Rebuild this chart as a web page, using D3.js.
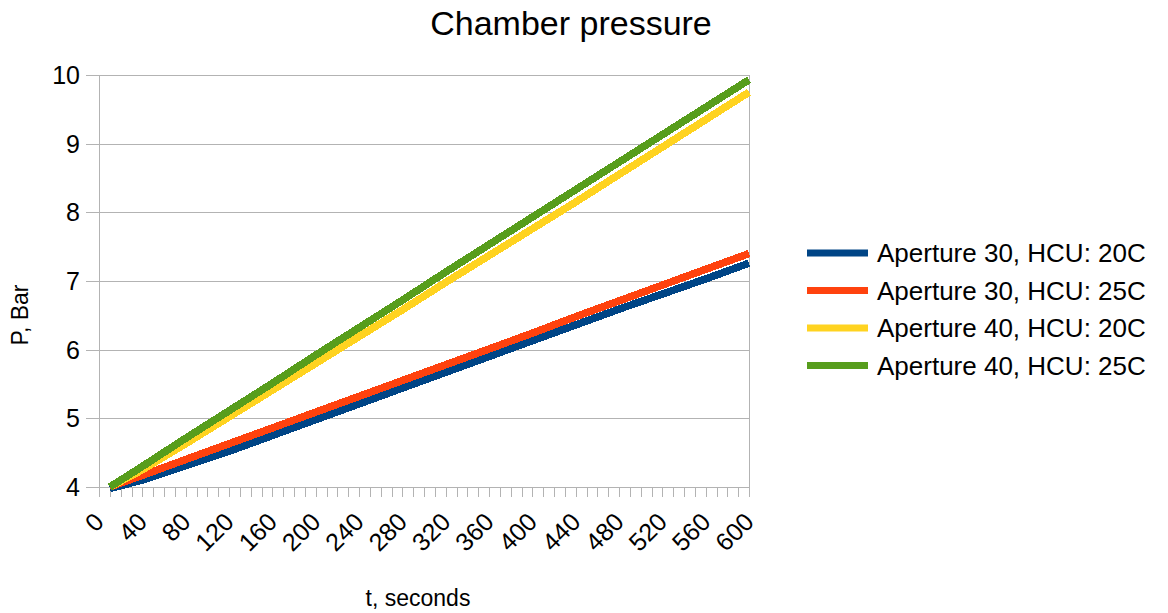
<!DOCTYPE html>
<html>
<head>
<meta charset="utf-8">
<script src="https://cdn.jsdelivr.net/npm/d3@7"></script>
<style>
  body { margin: 0; background: #fff; }
  text { font-family: "Liberation Sans", Arial, sans-serif; fill: #000; }
</style>
</head>
<body>
<div id="chart"></div>
<script>
// time points (seconds)
var times = [10, 40, 80, 120, 160, 200, 240, 280, 320, 360, 400, 440, 480, 520, 560, 600];

var seriesNames = ["Aperture 30, HCU: 20C", "Aperture 30, HCU: 25C",
                   "Aperture 40, HCU: 20C", "Aperture 40, HCU: 25C"];
var seriesColors = ["#004586", "#ff420e", "#ffd320", "#579d1c"];

var ap30_20 = [3.98, 4.10, 4.31, 4.52, 4.75, 4.98, 5.21, 5.44, 5.67, 5.90, 6.13, 6.36, 6.59, 6.81, 7.03, 7.26];
var ap30_25 = [4.00, 4.17, 4.40, 4.63, 4.86, 5.09, 5.32, 5.55, 5.78, 6.01, 6.24, 6.48, 6.71, 6.94, 7.17, 7.40];
var ap40_20 = [4.00, 4.25, 4.63, 5.02, 5.41, 5.80, 6.19, 6.58, 6.98, 7.37, 7.76, 8.15, 8.55, 8.95, 9.35, 9.75];
var ap40_25 = [4.00, 4.30, 4.71, 5.11, 5.51, 5.92, 6.32, 6.72, 7.13, 7.53, 7.93, 8.33, 8.73, 9.13, 9.53, 9.93];

var yTicks = [4, 5, 6, 7, 8, 9, 10];
var xLabelTicks = d3.range(0, 601, 40);
var xMinorTicks = d3.range(0, 601, 10);

var seriesValues = [ap30_20, ap30_25, ap40_20, ap40_25];

var width = 1168, height = 613;
var plot = {left: 99, right: 749, top: 75, bottom: 487};

var svg = d3.select("#chart").append("svg")
    .attr("width", width)
    .attr("height", height);

var x = d3.scaleLinear().domain([0, 600]).range([plot.left, plot.right]);
var y = d3.scaleLinear().domain([4, 10]).range([plot.bottom, plot.top]);

// title
svg.append("text")
    .attr("x", 571)
    .attr("y", 35)
    .attr("text-anchor", "middle")
    .style("font-size", "34px")
    .text("Chamber pressure");

// horizontal grid + y ticks
svg.append("g").selectAll("line")
    .data(yTicks)
    .enter().append("line")
    .attr("x1", plot.left - 13)
    .attr("x2", plot.right)
    .attr("y1", function(d) { return Math.round(y(d)) + 0.5; })
    .attr("y2", function(d) { return Math.round(y(d)) + 0.5; })
    .attr("stroke", "#b3b3b3")
    .attr("stroke-width", 1);

svg.append("g").selectAll("text")
    .data(yTicks)
    .enter().append("text")
    .attr("x", plot.left - 19)
    .attr("y", function(d) { return y(d); })
    .attr("dy", "0.36em")
    .attr("text-anchor", "end")
    .style("font-size", "25px")
    .text(function(d) { return d; });

// left and right borders
[plot.left, plot.right].forEach(function(px) {
    svg.append("line")
        .attr("x1", px + 0.5).attr("x2", px + 0.5)
        .attr("y1", plot.top).attr("y2", plot.bottom + 10)
        .attr("stroke", "#b3b3b3");
});

// x minor ticks
svg.append("g").selectAll("line")
    .data(xMinorTicks)
    .enter().append("line")
    .attr("x1", function(d) { return Math.round(x(d)) + 0.5; })
    .attr("x2", function(d) { return Math.round(x(d)) + 0.5; })
    .attr("y1", plot.bottom)
    .attr("y2", plot.bottom + 10)
    .attr("stroke", "#b3b3b3");

// x labels, rotated
svg.append("g").selectAll("text")
    .data(xLabelTicks)
    .enter().append("text")
    .attr("transform", function(d) {
        return "translate(" + (x(d) - 6) + "," + (plot.bottom + 24) + ") rotate(-45)";
    })
    .attr("text-anchor", "end")
    .attr("dy", "0.7em")
    .style("font-size", "25px")
    .text(function(d) { return d; });

// axis titles
svg.append("text")
    .attr("x", 418)
    .attr("y", 606)
    .attr("text-anchor", "middle")
    .style("font-size", "23px")
    .text("t, seconds");

svg.append("text")
    .attr("transform", "translate(28,315) rotate(-90)")
    .attr("text-anchor", "middle")
    .style("font-size", "23px")
    .text("P, Bar");

// lines
var line = d3.line()
    .x(function(d, i) { return x(times[i]); })
    .y(function(d) { return y(d); });

svg.append("g").selectAll("path")
    .data(seriesValues)
    .enter().append("path")
    .attr("d", line)
    .attr("fill", "none")
    .attr("stroke", function(d, i) { return seriesColors[i]; })
    .attr("stroke-width", 7.5)
    .style("shape-rendering", "crispEdges");

// legend
var legend = svg.append("g").selectAll("g")
    .data(seriesNames)
    .enter().append("g")
    .attr("transform", function(d, i) { return "translate(807," + (253 + i * 37.5) + ")"; });

legend.append("line")
    .attr("x1", 0).attr("x2", 61)
    .attr("y1", 0).attr("y2", 0)
    .attr("stroke", function(d, i) { return seriesColors[i]; })
    .attr("stroke-width", 7);

legend.append("text")
    .attr("x", 70)
    .attr("dy", "0.36em")
    .style("font-size", "26px")
    .text(function(d) { return d; });
</script>
</body>
</html>
